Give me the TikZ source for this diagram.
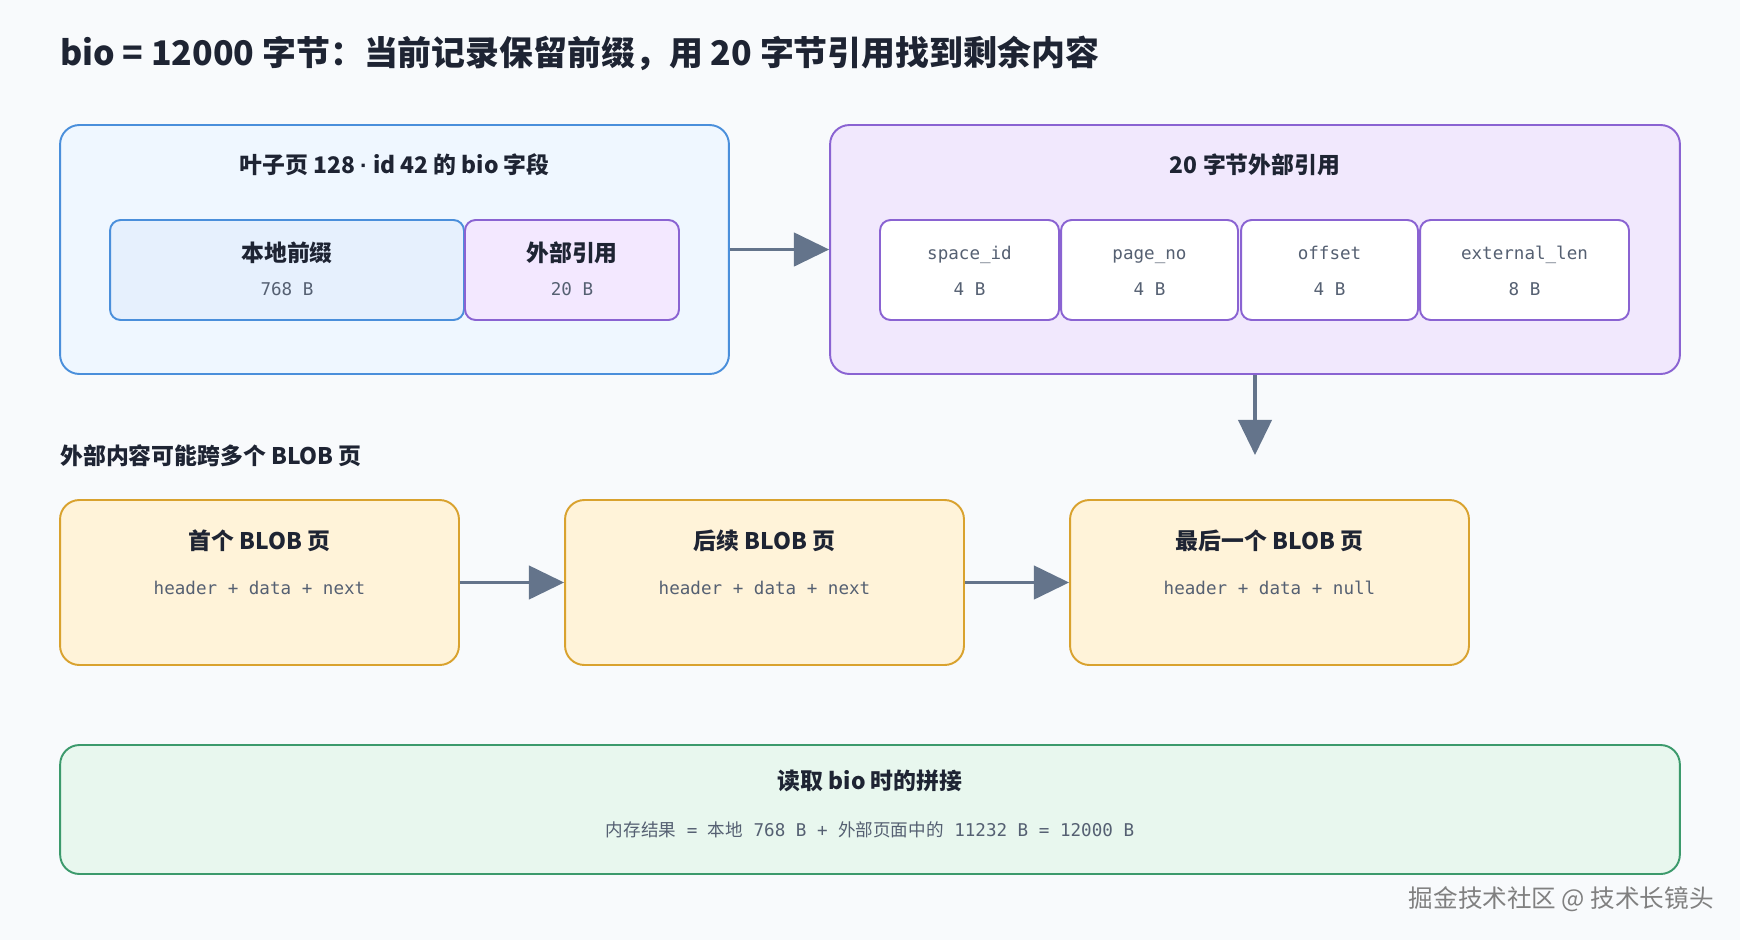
\documentclass[tikz,border=0pt]{standalone}
\usepackage{fontspec}
\setmainfont{Noto Sans CJK SC}
\setmonofont{DejaVu Sans Mono}
\usetikzlibrary{arrows.meta, positioning, calc}
\definecolor{bgcolor}{HTML}{F8FAFC}
\definecolor{inkcolor}{HTML}{1E2433}
\definecolor{monocolor}{HTML}{556072}
\definecolor{arrowcolor}{HTML}{64748B}
\definecolor{leafblue}{HTML}{4A8FDB}
\definecolor{leaffill}{HTML}{EFF7FF}
\definecolor{localfill}{HTML}{E6F0FD}
\definecolor{refpurple}{HTML}{8A63D2}
\definecolor{reffill}{HTML}{F1E8FD}
\definecolor{extfill}{HTML}{F3E8FF}
\definecolor{blobborder}{HTML}{D9A22E}
\definecolor{blobfill}{HTML}{FFF3D9}
\definecolor{sumgreen}{HTML}{3C9A6C}
\definecolor{sumfill}{HTML}{E8F7EE}
\definecolor{markgray}{HTML}{808080}
\newcommand{\zhtext}[1]{{\rmfamily #1}}
\newfontfamily\dotfont{Liberation Sans}
\tikzset{
    outerbox/.style={
        rectangle,
        rounded corners=11pt,
        line width=1.1pt,
        minimum height=4.98cm
    },
    cellbox/.style={
        rectangle,
        rounded corners=6pt,
        line width=1.1pt,
        minimum height=2.0cm
    },
    blobbox/.style={
        rectangle,
        rounded corners=11pt,
        line width=1.1pt,
        draw=blobborder,
        fill=blobfill,
        minimum width=7.98cm,
        minimum height=3.3cm
    },
    heading/.style={
        anchor=west,
        inner sep=0pt,
        text=inkcolor,
        font=\bfseries\fontsize{19.3}{23}\selectfont
    },
    boxtitle/.style={
        inner sep=0pt,
        text=inkcolor,
        font=\bfseries\fontsize{13}{16}\selectfont
    },
    sizetext/.style={
        inner sep=0pt,
        text=monocolor,
        font=\ttfamily\fontsize{10}{12}\selectfont
    },
    link/.style={
        line width=1.8pt,
        color=arrowcolor,
        -{Triangle[length=20pt, width=19pt]}
    }
}
\begin{document}
\begin{tikzpicture}[x=0.02cm, y=-0.02cm]
    % canvas
    \fill[bgcolor] (0,0) rectangle (1740,940);
    \useasboundingbox (0,0) rectangle (1740,940);

    % heading
    \node (heading) [heading] at (60,53) {bio = 12000 字节：当前记录保留前缀，用 20 字节引用找到剩余内容};

    % leaf page field
    \node (leaf) [outerbox, draw=leafblue, fill=leaffill, minimum width=13.38cm] at (394.5,249.5) {};
    \node (leaftitle) [boxtitle] at ($(leaf.north)+(0,41)$) {叶子页 128 {\dotfont\bfseries ·} id 42 的 bio 字段};
    \node (local) [cellbox, draw=leafblue, fill=localfill, minimum width=7.08cm] at (287,270) {};
    \node (extref) [cellbox, draw=refpurple, fill=extfill, minimum width=4.28cm] at (572,270) {};
    \node (localname) [boxtitle] at ($(local)+(0,-17)$) {本地前缀};
    \node (localsize) [sizetext] at ($(local)+(0,19)$) {768 B};
    \node (extname) [boxtitle] at ($(extref)+(0,-17)$) {外部引用};
    \node (extsize) [sizetext] at ($(extref)+(0,19)$) {20 B};

    % 20 byte reference
    \node (ref) [outerbox, draw=refpurple, fill=reffill, minimum width=17.0cm] at (1255,249.5) {};
    \node (reftitle) [boxtitle] at ($(ref.north)+(0,41)$) {20 字节外部引用};
    \node (spaceid) [cellbox, draw=refpurple, fill=white, minimum width=3.58cm] at (969.5,270) {};
    \node (pageno) [cellbox, draw=refpurple, fill=white, minimum width=3.54cm] at (1149.5,270) {};
    \node (offset) [cellbox, draw=refpurple, fill=white, minimum width=3.54cm] at (1329.5,270) {};
    \node (extlen) [cellbox, draw=refpurple, fill=white, minimum width=4.18cm] at (1524.5,270) {};
    \node (spaceidname) [sizetext, anchor=base] at ($(spaceid)+(0,-11)$) {space\_id};
    \node (spaceidsize) [sizetext] at ($(spaceid)+(0,19)$) {4 B};
    \node (pagenoname) [sizetext, anchor=base] at ($(pageno)+(0,-11)$) {page\_no};
    \node (pagenosize) [sizetext] at ($(pageno)+(0,19)$) {4 B};
    \node (offsetname) [sizetext, anchor=base] at ($(offset)+(0,-11)$) {offset};
    \node (offsetsize) [sizetext] at ($(offset)+(0,19)$) {4 B};
    \node (extlenname) [sizetext, anchor=base] at ($(extlen)+(0,-11)$) {external\_len};
    \node (extlensize) [sizetext] at ($(extlen)+(0,19)$) {8 B};

    \draw [link] (leaf.east) -- (ref.west);
    \coordinate (refdrop) at (1255,455);
    \draw [link] (ref.south) -- (refdrop);

    % BLOB chain
    \node (chainlabel) [boxtitle, anchor=west] at (60,456) {外部内容可能跨多个 BLOB 页};
    \node (blobfirst) [blobbox] at (259.5,582.5) {};
    \node (blobnext) [blobbox] at (764.5,582.5) {};
    \node (bloblast) [blobbox] at (1269.5,582.5) {};
    \node (blobfirsttitle) [boxtitle] at ($(blobfirst.north)+(0,42)$) {首个 BLOB 页};
    \node (blobfirstbody) [sizetext] at ($(blobfirst.north)+(0,89)$) {header + data + next};
    \node (blobnexttitle) [boxtitle] at ($(blobnext.north)+(0,42)$) {后续 BLOB 页};
    \node (blobnextbody) [sizetext] at ($(blobnext.north)+(0,89)$) {header + data + next};
    \node (bloblasttitle) [boxtitle] at ($(bloblast.north)+(0,42)$) {最后一个 BLOB 页};
    \node (bloblastbody) [sizetext] at ($(bloblast.north)+(0,89)$) {header + data + null};

    \draw [link] (blobfirst.east) -- (blobnext.west);
    \draw [link] (blobnext.east) -- (bloblast.west);

    % reading bio
    \node (assemble) [outerbox, draw=sumgreen, fill=sumfill, minimum width=32.4cm, minimum height=2.58cm] at (870,809.5) {};
    \node (assembletitle) [boxtitle] at ($(assemble.north)+(0,37)$) {读取 bio 时的拼接};
    \node (assemblesum) [sizetext] at ($(assemble.north)+(0,86)$) {\zhtext{内存结果} = \zhtext{本地} 768 B + \zhtext{外部页面中的} 11232 B = 12000 B};

    % watermark
    \node (watermark) [anchor=east, inner sep=0pt, text=markgray, font=\fontsize{14}{17}\selectfont] at (1714,899) {掘金技术社区 @ 技术长镜头};
\end{tikzpicture}
\end{document}
